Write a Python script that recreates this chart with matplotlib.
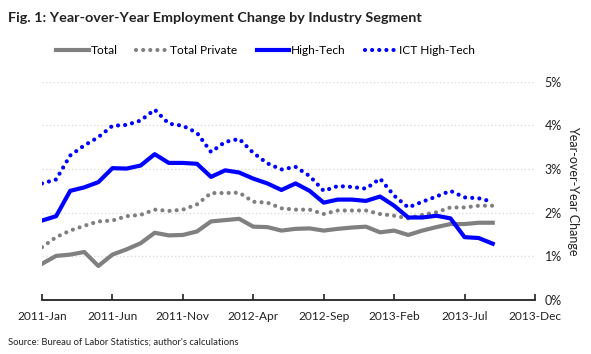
import numpy as np
import matplotlib
matplotlib.use('Agg')
import matplotlib.pyplot as plt

plt.rcParams['font.family'] = ['Lato', 'DejaVu Sans']

# monthly, 2011-Jan .. 2013-Sep, year-over-year change in %
total = [0.83, 1.01, 1.04, 1.10, 0.78, 1.04, 1.16, 1.30, 1.54, 1.48, 1.49,
         1.57, 1.80, 1.83, 1.86, 1.68, 1.67, 1.59, 1.63, 1.64, 1.59, 1.63,
         1.66, 1.68, 1.55, 1.59, 1.49, 1.59, 1.67, 1.74, 1.74, 1.77, 1.77]
total_private = [1.21, 1.44, 1.59, 1.70, 1.80, 1.82, 1.92, 1.95, 2.07, 2.04, 2.07,
                 2.19, 2.45, 2.45, 2.46, 2.25, 2.23, 2.10, 2.07, 2.07, 1.97, 2.05,
                 2.05, 2.05, 1.97, 1.93, 1.87, 1.95, 2.01, 2.12, 2.12, 2.16, 2.16]
high_tech = [1.82, 1.92, 2.50, 2.58, 2.70, 3.02, 3.01, 3.08, 3.34, 3.14, 3.14,
             3.12, 2.82, 2.97, 2.92, 2.78, 2.67, 2.52, 2.67, 2.50, 2.23, 2.30,
             2.30, 2.27, 2.37, 2.16, 1.89, 1.89, 1.93, 1.87, 1.44, 1.42, 1.29]
ict_high_tech = [2.67, 2.76, 3.31, 3.54, 3.73, 3.99, 4.01, 4.11, 4.36, 4.04, 3.99,
                 3.83, 3.39, 3.62, 3.69, 3.37, 3.13, 2.99, 3.05, 2.84, 2.50, 2.61,
                 2.59, 2.55, 2.78, 2.39, 2.12, 2.25, 2.37, 2.50, 2.35, 2.33, 2.25]
tick_labels = ['2011-Jan', '2011-Jun', '2011-Nov', '2012-Apr', '2012-Sep',
               '2013-Feb', '2013-Jul', '2013-Dec']
y_ticks = [0, 1, 2, 3, 4, 5]

GREY = '#808080'
BLUE = '#0000ff'
DOT = (0, (0.01, 1.7))

fig = plt.figure(figsize=(5.91, 3.54), dpi=100)
ax = fig.add_axes([0.0711, 0.1525, 0.8341, 0.6167])
x = np.arange(len(total))
ax.plot(x, total, color=GREY, linewidth=3, solid_joinstyle='round', label='Total')
ax.plot(x, total_private, color=GREY, linewidth=3, linestyle=DOT, dash_capstyle='round', label='Total Private')
ax.plot(x, high_tech, color=BLUE, linewidth=3, solid_joinstyle='round', label='High-Tech')
ax.plot(x, ict_high_tech, color=BLUE, linewidth=3, linestyle=DOT, dash_capstyle='round', label='ICT High-Tech')

ax.set_xlim(0, 35)
ax.set_ylim(0, 5)
ax.set_xticks(np.arange(0, 36, 5))
ax.set_xticklabels(tick_labels, fontsize=8.6, color='#222222')
ax.set_yticks(y_ticks)
ax.set_yticklabels([f'{v}%' for v in y_ticks], fontsize=9, color='#222222')
ax.yaxis.tick_right()
ax.yaxis.set_label_position('right')
ax.set_ylabel('Year-over-Year Change', rotation=270, fontsize=9, color='#222222', labelpad=12)
ax.tick_params(axis='y', length=0, pad=7)
ax.tick_params(axis='x', direction='in', length=4, width=1.2, color='#222222', pad=8)
ax.grid(True, axis='y', color='#dddddd', linestyle=':', linewidth=1)
ax.set_axisbelow(True)
for s in ['top', 'left', 'right']:
    ax.spines[s].set_visible(False)
ax.spines['bottom'].set_linewidth(1.3)
ax.spines['bottom'].set_color('#222222')

fig.text(0.0135, 0.948, 'Fig. 1: Year-over-Year Employment Change by Industry Segment',
         fontsize=10.4, fontweight='bold', color='#222222', va='center')
fig.legend(loc='center', bbox_to_anchor=(0.449, 0.856), ncol=4, frameon=False,
           fontsize=8.6, handlelength=2.7, handletextpad=0.15, columnspacing=1.6)
fig.text(0.0135, 0.034, "Source: Bureau of Labor Statistics; author's calculations",
         fontsize=6.8, color='#222222', va='center')

plt.savefig('out.png', dpi=100)
plt.close()
